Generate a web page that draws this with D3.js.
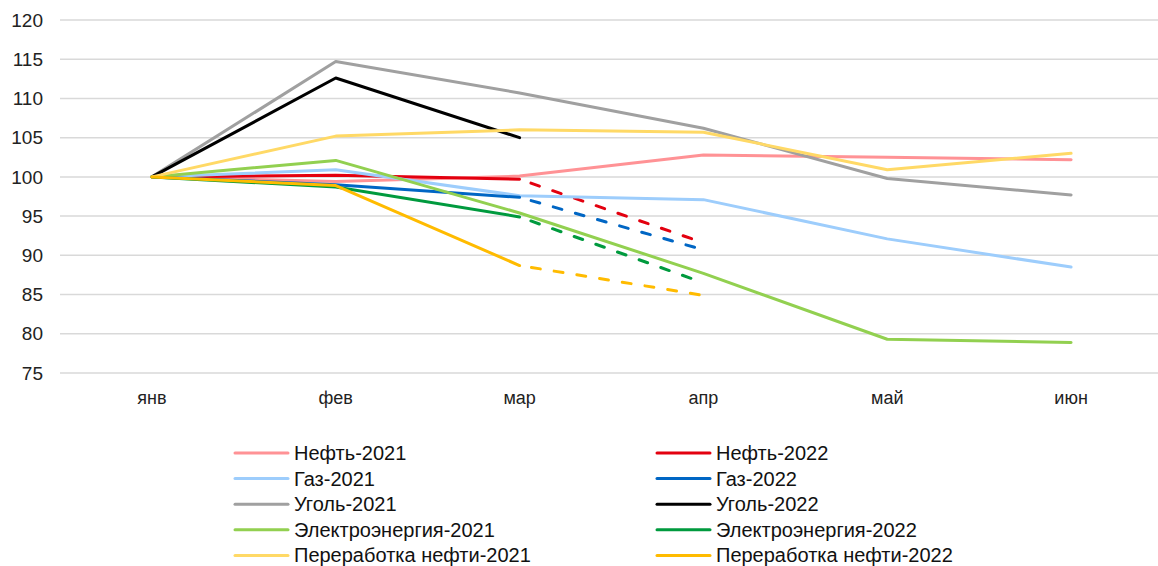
<!DOCTYPE html>
<html>
<head>
<meta charset="utf-8">
<script src="https://cdn.jsdelivr.net/npm/d3@7"></script>
<style>
  body { margin: 0; background: #fff; }
  svg { display: block; font-family: "Liberation Sans", Arial, sans-serif; }
</style>
</head>
<body>
<div id="chart"></div>
<script>
// months and y ticks
const months = ["янв", "фев", "мар", "апр", "май", "июн"];
const yTicks = [75, 80, 85, 90, 95, 100, 105, 110, 115, 120];

// 2021 series: full half-year
const oil2021 = [100, 99.4, 100.1, 102.8, 102.5, 102.2];
const gas2021 = [100, 100.9, 97.6, 97.1, 92.1, 88.5];
const coal2021 = [100, 114.7, 110.7, 106.2, 99.8, 97.7];
const elec2021 = [100, 102.1, 95.4, 87.7, 79.3, 78.9];
const refin2021 = [100, 105.2, 106.0, 105.7, 100.9, 103.0];

// 2022 series: actual янв–мар
const oil2022 = [100, 100.2, 99.7];
const gas2022 = [100, 99.0, 97.4];
const coal2022 = [100, 112.6, 105.0];
const elec2022 = [100, 98.7, 94.9];
const refin2022 = [100, 98.9, 88.7];

// 2022 estimate for апр (dashed from мар)
const oil2022Apr = 91.6;
const gas2022Apr = 90.7;
const elec2022Apr = 86.5;
const refin2022Apr = 84.9;

const series = [
    { name: "Нефть-2021", values: oil2021, color: "#ff9295" },
    { name: "Нефть-2022", values: oil2022, est: oil2022Apr, color: "#e3000f" },
    { name: "Газ-2021", values: gas2021, color: "#9dcdfc" },
    { name: "Газ-2022", values: gas2022, est: gas2022Apr, color: "#0066c4" },
    { name: "Уголь-2021", values: coal2021, color: "#a0a0a0" },
    { name: "Уголь-2022", values: coal2022, color: "#000000" },
    { name: "Электроэнергия-2021", values: elec2021, color: "#92d050" },
    { name: "Электроэнергия-2022", values: elec2022, est: elec2022Apr, color: "#009a3e" },
    { name: "Переработка нефти-2021", values: refin2021, color: "#ffd966" },
    { name: "Переработка нефти-2022", values: refin2022, est: refin2022Apr, color: "#ffbb00" }
];

const width = 1158, height = 566;
const svg = d3.select("#chart").append("svg")
    .attr("width", width)
    .attr("height", height);

const x = d3.scalePoint().domain(months).range([60, 1163]).padding(0.5);
const y = d3.scaleLinear().domain([75, 120]).range([373, 20]);

// grid
svg.append("g")
    .selectAll("line")
    .data(yTicks)
    .join("line")
    .attr("x1", 60).attr("x2", width)
    .attr("y1", d => y(d)).attr("y2", d => y(d))
    .attr("stroke", "#d9d9d9")
    .attr("stroke-width", 1.5);

// y labels
svg.append("g")
    .selectAll("text")
    .data(yTicks)
    .join("text")
    .attr("x", 43)
    .attr("y", d => y(d))
    .attr("dy", "0.35em")
    .attr("text-anchor", "end")
    .attr("font-size", 19)
    .attr("fill", "#222")
    .text(d => d);

// x labels
svg.append("g")
    .selectAll("text")
    .data(months)
    .join("text")
    .attr("x", d => x(d))
    .attr("y", 398)
    .attr("dy", "0.35em")
    .attr("text-anchor", "middle")
    .attr("font-size", 18)
    .attr("fill", "#222")
    .text(d => d);

const line = d3.line()
    .x(d => x(d.m))
    .y(d => y(d.v));

const lines = svg.append("g")
    .attr("fill", "none")
    .attr("stroke-width", 3)
    .attr("stroke-linejoin", "round");

series.forEach(s => {
    const pts = s.values.map((v, i) => ({ m: months[i], v }));
    lines.append("path")
        .attr("d", line(pts))
        .attr("stroke", s.color)
        .attr("stroke-linecap", "round");
    if (s.est !== undefined) {
        const last = pts[pts.length - 1];
        lines.append("path")
            .attr("d", line([last, { m: months[pts.length], v: s.est }]))
            .attr("stroke", s.color)
            .attr("stroke-linecap", "round")
            .attr("stroke-dasharray", "9,14")
            .attr("stroke-dashoffset", -12);
    }
});

// legend, two columns, row-wise
const legend = svg.append("g").attr("font-size", 20);
series.forEach((s, i) => {
    const col = i % 2, row = Math.floor(i / 2);
    const lx = col === 0 ? 235 : 657;
    const ly = 453 + row * 25.6;
    const g = legend.append("g").attr("transform", `translate(${lx},${ly})`);
    g.append("line")
        .attr("x1", 0).attr("x2", 53)
        .attr("stroke", s.color)
        .attr("stroke-width", 3)
        .attr("stroke-linecap", "round");
    g.append("text")
        .attr("x", 59)
        .attr("dy", "0.35em")
        .attr("fill", "#111")
        .text(s.name);
});
</script>
</body>
</html>
